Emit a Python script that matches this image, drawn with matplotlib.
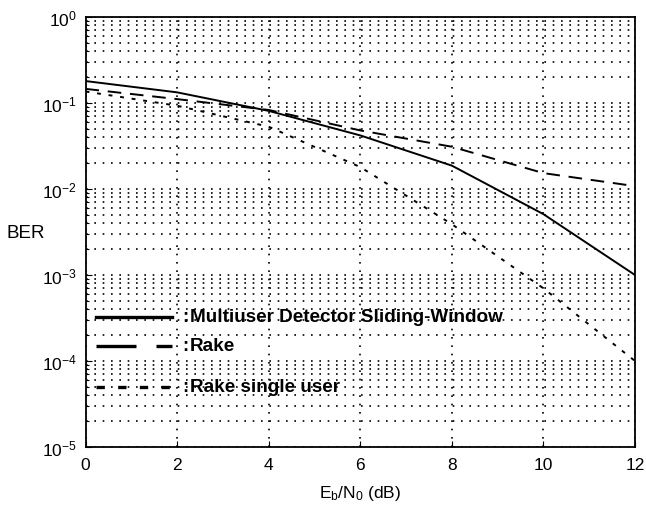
import matplotlib
matplotlib.use("Agg")
import matplotlib.pyplot as plt
from matplotlib.lines import Line2D
import numpy as np

plt.rcParams['font.family'] = ['Liberation Sans', 'DejaVu Sans']
plt.rcParams['mathtext.fontset'] = 'custom'
plt.rcParams['mathtext.rm'] = 'Liberation Sans'
plt.rcParams['mathtext.it'] = 'Liberation Sans'

ebn0 = [0, 2, 4, 6, 8, 10, 12]
ber_multiuser = [0.18, 0.133, 0.081, 0.042, 0.0187, 0.0051, 0.001]
ber_rake = [0.146, 0.111, 0.083, 0.048, 0.031, 0.0153, 0.0108]
ber_rake_single = [0.136, 0.093, 0.053, 0.018, 0.0039, 0.0007, 0.0001]
labels = ['Multiuser Detector Sliding-Window', 'Rake', 'Rake single user']

L, R, T, B = 85.5, 635, 18, 448
fig = plt.figure(figsize=(6.46, 5.06), dpi=100)
ax = fig.add_axes([L/646, 1 - B/506, (R - L)/646, (B - T)/506])

ax.plot(ebn0, ber_multiuser, color='black', lw=1.4, ls='-')
ax.plot(ebn0, ber_rake, color='black', lw=1.4, ls=(0, (7, 4.5)))
ax.plot(ebn0, ber_rake_single, color='black', lw=1.4, ls=(0, (2, 4)))

ax.set_yscale('log')
ax.set_xlim(0, 12)
ax.set_ylim(1e-5, 1)
ax.set_xticks(range(0, 13, 2))
ax.set_yticks([1e-5, 1e-4, 1e-3, 1e-2, 1e-1, 1])
ax.set_yticklabels([r'$10^{-5}$', r'$10^{-4}$', r'$10^{-3}$', r'$10^{-2}$', r'$10^{-1}$', r'$10^{0}$'])
ax.tick_params(axis='both', which='both', direction='in', labelsize=12.5, length=4, width=0.8)
ax.tick_params(axis='y', which='minor', length=2)
ax.tick_params(axis='x', pad=7)
ax.tick_params(axis='y', pad=6)
ax.grid(True, which='major', axis='both', color='black', ls=(0, (1, 4)), lw=1.2)
ax.grid(True, which='minor', axis='y', color='black', ls=(0, (1, 4)), lw=1.2)
for s in ax.spines.values():
    s.set_linewidth(1.3)

W = R - L
ax.set_xlabel(r'E$_\mathrm{b}$/N$_0$ (dB)', fontsize=12.5, labelpad=8)
ax.set_ylabel('BER', fontsize=13.5, rotation=0, va='center', ha='center')
ax.yaxis.set_label_coords((26 - L) / W, 0.5)

# legend, drawn manually (uneven row spacing as in reference)
styles = ['-', (0, (12, 6)), (0, (2.5, 4))]
rows_px = [318, 347, 388]
for lab, st, ypx in zip(labels, styles, rows_px):
    yf = 1 - (ypx - T) / (B - T)
    ax.add_line(Line2D([(96 - L) / W, (172 - L) / W], [yf, yf],
                       transform=ax.transAxes, color='black', lw=2.4, ls=st))
    ax.text((182 - L) / W, yf, ':', transform=ax.transAxes,
            fontsize=13, fontweight='bold', va='center', ha='left')
    ax.text((190 - L) / W, yf, lab, transform=ax.transAxes,
            fontsize=13.6, fontweight='bold', va='center', ha='left')

fig.savefig('out.png', dpi=100)
